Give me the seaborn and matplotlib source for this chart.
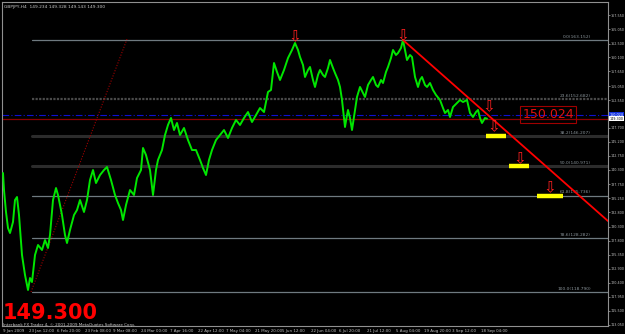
import matplotlib
matplotlib.use("Agg")
import matplotlib.pyplot as plt
import seaborn as sns
import pandas as pd

# ---- data ----
bar_pos = [3, 4, 6, 8, 10, 13, 15, 17, 19, 22, 25, 28, 30, 32, 35, 38, 42, 45, 48, 50,
           53, 56, 58, 62, 65, 67, 70, 74, 77, 80, 84, 87, 90, 93, 96, 100, 104, 107, 111, 115,
           118, 121, 123, 126, 130, 134, 137, 141, 143, 146, 150, 153, 156, 158, 162, 165, 168, 171, 174, 177,
           180, 184, 188, 192, 196, 200, 203, 206, 209, 212, 216, 220, 224, 228, 232, 236, 240, 244, 248, 252,
           256, 260, 264, 268, 271, 274, 277, 280, 284, 288, 292, 295, 298, 300, 303, 305, 308, 310, 313, 315,
           318, 320, 323, 325, 328, 330, 333, 335, 338, 340, 342, 345, 347, 348, 350, 352, 355, 357, 360, 363,
           365, 368, 371, 373, 376, 378, 381, 383, 386, 388, 391, 393, 396, 398, 401, 403, 405, 407, 410, 412,
           415, 418, 420, 422, 425, 427, 430, 433, 436, 440, 443, 445, 448, 450, 453, 457, 460, 463, 467, 470,
           473, 476, 478, 480, 482, 485, 487]
close_price = [139.73, 136.74, 132.87, 130.05, 129.17, 131.11, 134.98, 135.51, 132.34, 125.30, 121.78, 119.14, 121.25, 120.54, 125.30, 127.06, 126.18, 127.94, 126.53, 128.82,
               134.98, 137.09, 135.86, 132.34, 128.82, 127.41, 129.70, 132.34, 133.22, 134.98, 132.87, 134.98, 138.50, 140.26, 137.97, 139.38, 140.26, 140.79, 138.50, 135.86,
               134.45, 133.22, 131.46, 134.10, 136.74, 135.86, 138.85, 140.26, 144.14, 142.90, 140.26, 135.86, 140.26, 142.03, 143.78, 146.42, 148.19, 149.42, 147.30, 148.54,
               146.42, 147.66, 145.54, 143.78, 143.78, 142.03, 140.62, 139.38, 142.03, 143.78, 145.54, 146.42, 147.30, 145.90, 147.66, 149.07, 148.19, 149.42, 150.47, 148.71,
               149.95, 151.18, 150.47, 154.00, 154.35, 159.10, 157.52, 156.11, 157.87, 159.98, 161.39, 162.62, 161.39, 160.16, 158.75, 156.64, 157.87, 158.40, 156.11, 154.88,
               156.99, 157.87, 156.99, 156.64, 158.22, 159.63, 158.22, 157.34, 156.11, 154.88, 152.59, 147.83, 149.95, 150.83, 149.42, 147.30, 150.83, 153.12, 154.88, 153.82,
               153.12, 155.23, 156.11, 156.64, 155.23, 154.88, 156.11, 155.58, 157.52, 158.40, 159.98, 161.39, 160.51, 160.86, 161.74, 163.15, 161.39, 159.63, 160.51, 160.16,
               156.64, 154.88, 156.11, 156.64, 155.23, 154.88, 155.58, 154.35, 153.47, 152.59, 151.18, 150.30, 150.83, 149.59, 151.35, 152.06, 152.59, 152.23, 152.59, 150.30,
               149.59, 150.47, 150.83, 149.42, 148.54, 149.42, 149.30]

date_tick_pos = [3, 29, 57, 85, 113, 141, 170, 198, 226, 255, 282, 311, 339, 367, 396, 424, 452, 481]
date_labels = ["9 Jan 2009", "23 Jan 12:00", "6 Feb 20:00", "23 Feb 08:00", "9 Mar 08:00",
               "24 Mar 00:00", "7 Apr 16:00", "22 Apr 12:00", "7 May 04:00", "21 May 20:00",
               "5 Jun 12:00", "22 Jun 04:00", "6 Jul 20:00", "21 Jul 12:00", "5 Aug 04:00",
               "19 Aug 20:00", "3 Sep 12:00", "18 Sep 04:00"]

price_ticks = [167.55, 165.05, 162.50, 160.10, 157.65, 155.05, 152.55, 147.70, 145.20, 142.75,
               140.30, 137.75, 135.25, 132.80, 130.30, 127.80, 125.35, 122.90, 120.40, 117.95,
               115.50, 113.05]

fib_ratios = [0.0, 23.6, 38.2, 50.0, 61.8, 78.6, 100.0]
fib_prices = [163.152, 152.682, 146.207, 140.971, 135.736, 128.282, 118.790]

swing_low = (31, 118.79)
swing_high_anchor = (127, 163.3)
trend_start = (403, 163.15)
trend_end = (608, 131.28)

arrow_pos = [295, 403, 489, 494, 520, 550]
arrow_price = [163.7, 163.9, 151.4, 147.8, 142.3, 137.1]

target_start = [486, 509, 537]
target_end = [506, 529, 563]
target_price = [146.20, 140.97, 135.74]

bid_price = 149.300
alert_price = 150.024
title_text = "GBPJPY,H4  149.234 149.328 149.143 149.300"

# ---- figure ----
sns.set_style("dark", {"axes.facecolor": "black", "figure.facecolor": "black"})
plt.rcParams['font.family'] = ['DejaVu Sans']

fig = plt.figure(figsize=(6.25, 3.34), dpi=100)
fig.patch.set_facecolor("black")
ax = fig.add_axes([2/625, 8/334, 606/625, 324/334])
ax.set_facecolor("black")

xmin, xmax = 2, 608
ymin, ymax = 112.80, 169.84
ax.set_xlim(xmin, xmax)
ax.set_ylim(ymin, ymax)

# fibonacci levels
fib_styles = {0.0: ("#6f7a80", 0.9, "-"), 23.6: ("#4a4a4a", 1.6, (0, (1, 0.6))),
              38.2: ("#2c2c2c", 2.2, "-"), 50.0: ("#2c2c2c", 2.2, "-"),
              61.8: ("#6f7a80", 0.9, "-"), 78.6: ("#6f7a80", 0.9, "-"),
              100.0: ("#6f7a80", 0.9, "-")}
for r, p in zip(fib_ratios, fib_prices):
    c, lw, ls = fib_styles[r]
    ax.plot([32, xmax], [p, p], color=c, lw=lw, ls=ls, zorder=1)
    ax.text(591, p + 0.25, f"{r:.1f}({p:.3f})", color="#8a949a", fontsize=3.2,
            ha="right", va="bottom", zorder=2)

# current/alert lines
ax.axhline(alert_price, color="#1010d0", lw=0.8, ls=(0, (6, 2, 1, 2)), zorder=2)
ax.axhline(bid_price, color="#8b0000", lw=0.9, zorder=2)

# fib anchor dotted line
ax.plot([swing_low[0], swing_high_anchor[0]], [swing_low[1], swing_high_anchor[1]],
        color="#a00000", lw=0.8, ls=(0, (1, 1.5)), zorder=2)

# price series
df = pd.DataFrame({"bar": bar_pos, "price": close_price})
sns.lineplot(data=df, x="bar", y="price", ax=ax, color="#00e600", lw=1.4, zorder=3)

# trend line
ax.plot([trend_start[0], trend_end[0]], [trend_start[1], trend_end[1]],
        color="#ff0000", lw=1.3, zorder=4)

# targets
for s, e, p in zip(target_start, target_end, target_price):
    ax.plot([s, e], [p, p], color="#ffff00", lw=3.2, solid_capstyle="butt", zorder=5)

# arrows
for x, p in zip(arrow_pos, arrow_price):
    ax.text(x, p, "⇩", color="#ff2020", fontsize=11, ha="center", va="center", zorder=6)

# price label box
ax.text(548, alert_price, f"{alert_price:.3f}", color="#e01010", fontsize=9,
        ha="center", va="center", zorder=6,
        bbox=dict(boxstyle="square,pad=0.15", fc="none", ec="#a00000", lw=0.8))

# big bid text & copyright
fig.text(3/625, 1 - 323/334, f"{bid_price:.3f}", color="#ff0000", fontsize=15,
         fontweight="bold", ha="left", va="bottom")
fig.text(3/625, 1 - 327/334, "Interbank FX Trader 4, © 2001-2009 MetaQuotes Software Corp.",
         color="#c8c8c8", fontsize=3.0, ha="left", va="bottom")
fig.text(4/625, 1 - 7/334, title_text, color="#c8c8c8", fontsize=3.2, ha="left", va="center")

# axes styling
for s in ax.spines.values():
    s.set_color("#909090")
    s.set_linewidth(0.8)
ax.yaxis.tick_right()
ax.set_yticks(price_ticks)
ax.set_yticklabels([f"{v:.3f}" for v in price_ticks])
ax.set_xticks(date_tick_pos)
ax.set_xticklabels(date_labels)
ax.tick_params(axis="y", colors="#909090", labelcolor="#c0c0c0", labelsize=2.4,
               length=1.5, width=0.6, pad=0.4)
ax.tick_params(axis="x", colors="#909090", labelcolor="#c0c0c0", labelsize=2.9,
               length=2, width=0.6, pad=0.5)
for lbl in ax.get_xticklabels():
    lbl.set_ha("left")
ax.set_xlabel("")
ax.set_ylabel("")
ax.grid(False)

# axis price labels (blue and white boxes)
ax.text(1.002, (alert_price - ymin) / (ymax - ymin), f"{alert_price:.3f}", transform=ax.transAxes,
        color="white", fontsize=2.4, ha="left", va="center", zorder=7, clip_on=False,
        bbox=dict(boxstyle="square,pad=0.2", fc="#1030e0", ec="none"))
ax.text(1.002, (bid_price - ymin) / (ymax - ymin), f"{bid_price:.3f}", transform=ax.transAxes,
        color="black", fontsize=2.4, ha="left", va="center", zorder=7, clip_on=False,
        bbox=dict(boxstyle="square,pad=0.2", fc="white", ec="none"))

fig.savefig("out.png", dpi=100, facecolor="black")
